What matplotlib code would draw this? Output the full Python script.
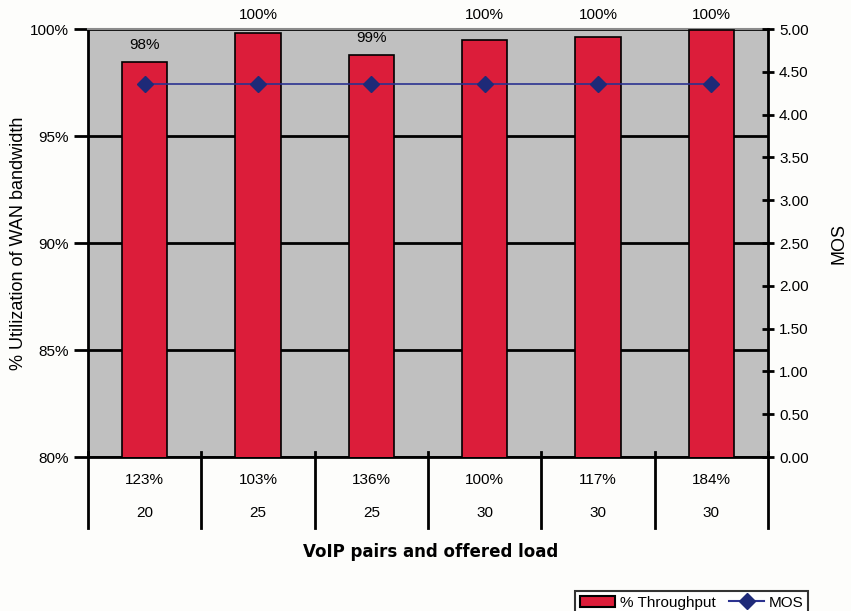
import matplotlib.pyplot as plt
import matplotlib.transforms as mtransforms
import numpy as np

# ---------------- data ----------------
pairs = ['20', '25', '25', '30', '30', '30']
offered_load = ['123%', '103%', '136%', '100%', '117%', '184%']
throughput = [98.45, 99.8, 98.8, 99.5, 99.65, 99.95]
throughput_labels = ['98%', '100%', '99%', '100%', '100%', '100%']
mos = [4.36, 4.36, 4.36, 4.36, 4.36, 4.36]

bar_color = '#DC1D3A'
line_color = '#2B3290'
marker_color = '#1E2A78'

plt.rcParams['font.family'] = ['Liberation Sans', 'DejaVu Sans']

fig = plt.figure(figsize=(8.51, 6.11), dpi=100, facecolor='#FDFDFB')
ax = fig.add_axes([0.1034, 0.252, 0.799, 0.7005])
ax.set_facecolor('#C0C0C0')

x = np.arange(len(pairs))
ax.bar(x, throughput, width=0.4, color=bar_color, edgecolor='black', linewidth=1.2, zorder=3)
ax.set_ylim(80, 100)
ax.set_xlim(-0.5, len(pairs) - 0.5)
ax.set_yticks([80, 85, 90, 95, 100])
ax.set_yticklabels(['80%', '85%', '90%', '95%', '100%'], fontsize=11)
ax.yaxis.grid(True, color='black', linewidth=2)
ax.set_axisbelow(True)
ax.tick_params(axis='y', direction='out', length=10, width=2)
ax.set_xticks([])

# value labels (near-100% labels sit above the plot frame, as in the original)
for i, v in enumerate(throughput):
    if v < 99.0:
        ax.annotate(throughput_labels[i], (x[i], v), xytext=(0, 7), textcoords='offset points',
                    ha='center', va='bottom', fontsize=11, annotation_clip=False)
    else:
        ax.annotate(throughput_labels[i], (x[i], 100), xytext=(0, 5), textcoords='offset points',
                    ha='center', va='bottom', fontsize=11, annotation_clip=False)

ax.spines['top'].set_color('#8C8C8C')
ax.spines['top'].set_linewidth(1.5)
ax.spines['left'].set_linewidth(2)
ax.spines['bottom'].set_linewidth(2)
ax.spines['right'].set_visible(False)

ax.set_ylabel('% Utilization of WAN bandwidth', fontsize=13, labelpad=2)

# right axis
ax2 = ax.twinx()
ax2.plot(x, mos, color=line_color, linewidth=1.2, marker='D', markersize=8,
         markerfacecolor=marker_color, markeredgecolor=marker_color, zorder=4)
ax2.set_ylim(0, 5)
ax2.set_yticks(np.arange(0, 5.01, 0.5))
ax2.set_yticklabels(['%.2f' % t for t in np.arange(0, 5.01, 0.5)], fontsize=11)
ax2.tick_params(axis='y', direction='inout', length=9, width=2)
for s in ['top', 'left', 'bottom']:
    ax2.spines[s].set_visible(False)
ax2.spines['right'].set_linewidth(2)
ax2.set_ylabel('MOS', fontsize=13, labelpad=16)

# category table below axis
trans = mtransforms.blended_transform_factory(ax.transData, ax.transAxes)
for b in np.arange(-0.5, len(pairs), 1.0):
    ax.plot([b, b], [0.012, -0.166], transform=trans, color='black', linewidth=2, clip_on=False)
for i in range(len(pairs)):
    ax.text(x[i], -0.054, offered_load[i], transform=trans, ha='center', va='center', fontsize=11)
    ax.text(x[i], -0.13, pairs[i], transform=trans, ha='center', va='center', fontsize=11)

fig.text(0.506, 0.096, 'VoIP pairs and offered load', ha='center', va='center',
         fontsize=12, fontweight='bold', family=['DejaVu Sans'])

# legend
from matplotlib.patches import Patch
from matplotlib.lines import Line2D
handles = [Patch(facecolor=bar_color, edgecolor='black', linewidth=1.5),
           Line2D([], [], color=line_color, marker='D', markersize=8,
                  markerfacecolor=marker_color, markeredgecolor=marker_color)]
leg = fig.legend(handles, ['% Throughput', 'MOS'], loc='upper left',
                 bbox_to_anchor=(0.667, 0.045), ncol=2, frameon=True, fancybox=False,
                 edgecolor='black', fontsize=11, handlelength=2.3, columnspacing=0.9,
                 borderpad=0.3, handletextpad=0.3)
leg.get_frame().set_linewidth(1.5)

plt.savefig('out.png', dpi=100, facecolor=fig.get_facecolor())
